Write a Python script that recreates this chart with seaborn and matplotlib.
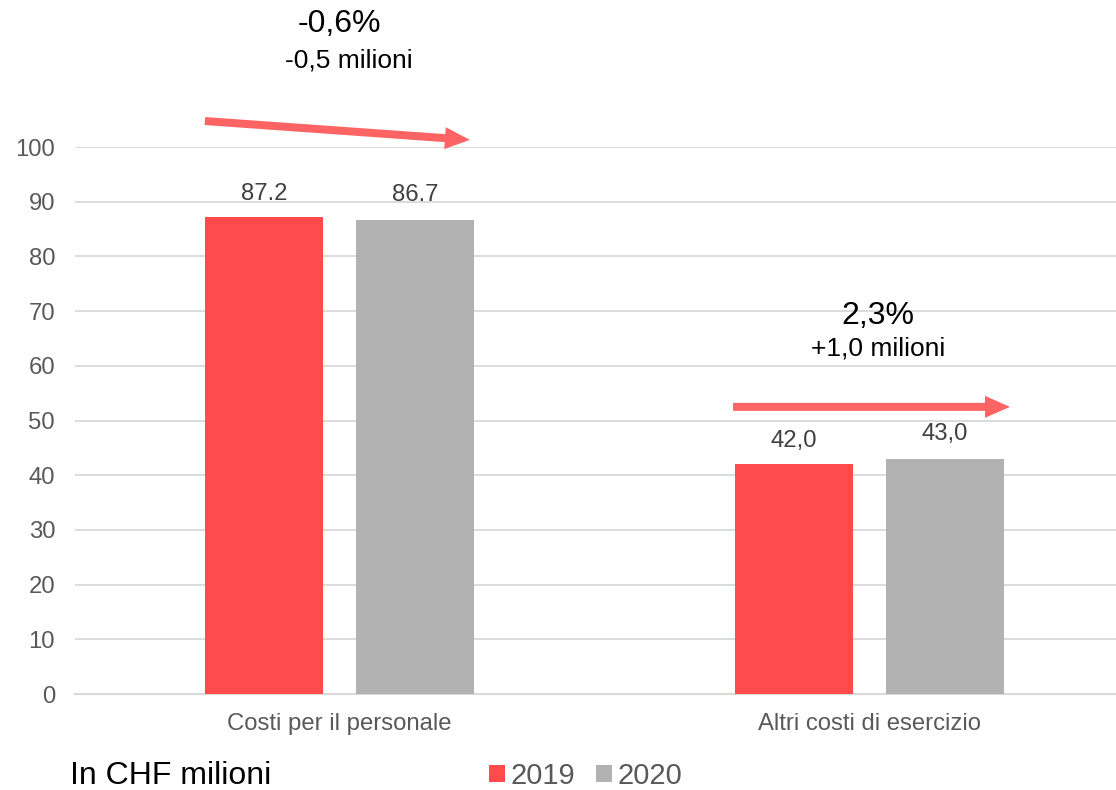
import pandas as pd
import matplotlib.pyplot as plt
import seaborn as sns
from matplotlib.patches import Patch

# data
categories = ["Costi per il personale", "Altri costi di esercizio"]
years = ["2019", "2020"]
values_2019 = [87.2, 42.0]
values_2020 = [86.7, 43.0]
labels_2019 = ["87.2", "42,0"]
labels_2020 = ["86.7", "43,0"]
change_pct = ["-0,6%", "2,3%"]
change_abs = ["-0,5 milioni", "+1,0 milioni"]
yticks = list(range(0, 101, 10))

red = "#FF4B4B"
grey = "#B2B2B2"
arrow_red = "#FF6464"
text_grey = "#595959"

df = pd.DataFrame({
    "categoria": categories * 2,
    "anno": [years[0]] * 2 + [years[1]] * 2,
    "valore": values_2019 + values_2020,
})

sns.set_style("white")
plt.rcParams["font.family"] = ["Liberation Sans", "DejaVu Sans"]

fig = plt.figure(figsize=(11.16, 7.9), dpi=100)
ax = fig.add_axes([0.0668, 0.1215, 0.9332, 0.6924])

sns.barplot(data=df, x="categoria", y="valore", hue="anno",
            palette=[red, grey], width=0.57, gap=0.22, linewidth=0,
            saturation=1, legend=False, ax=ax, zorder=3)

ax.set_ylim(0, 100)
ax.set_xlim(-0.5, 1.465)
ax.set_yticks(yticks)
ax.set_xlabel("")
ax.set_ylabel("")
ax.yaxis.grid(True, color="#D9D9D9", linewidth=1.3, zorder=0)
ax.xaxis.grid(False)
for side in ["left", "right", "top"]:
    ax.spines[side].set_visible(False)
ax.spines["bottom"].set_color("#D9D9D9")
ax.spines["bottom"].set_linewidth(1.5)
ax.tick_params(axis="y", length=0, pad=14, labelsize=17.2, labelcolor=text_grey)
ax.tick_params(axis="x", length=0, pad=14, labelsize=17.2, labelcolor=text_grey)

# value labels
ax.bar_label(ax.containers[0], labels=labels_2019, padding=9,
             fontsize=17.2, color="#404040")
ax.bar_label(ax.containers[1], labels=labels_2020, padding=10,
             fontsize=17.2, color="#404040")

# change annotations with arrows
arrows = [((-0.254, 104.75), (0.246, 101.3)), ((0.7425, 52.5), (1.265, 52.5))]
text_pos = [(0.0, 122.4, 0.017, 115.9), (1.016, 69.1, 1.016, 63.1)]
for i in range(2):
    start, end = arrows[i]
    ax.annotate("", xy=end, xytext=start, annotation_clip=False,
                arrowprops=dict(arrowstyle="simple,head_length=1.25,head_width=1.1,tail_width=0.4",
                                color=arrow_red, mutation_scale=14.4,
                                shrinkA=0, shrinkB=0, linewidth=0))
    x1, y1, x2, y2 = text_pos[i]
    ax.text(x1, y1, change_pct[i], ha="center", va="center",
            fontsize=23, color="black", clip_on=False)
    ax.text(x2, y2, change_abs[i], ha="center", va="center",
            fontsize=19, color="black", clip_on=False)

fig.text(0.0627, 0.0177, "In CHF milioni", ha="left", va="center",
         fontsize=23, color="black")

handles = [Patch(facecolor=red, edgecolor="none"), Patch(facecolor=grey, edgecolor="none")]
leg = fig.legend(handles, years, loc="center", bbox_to_anchor=(0.5247, 0.0177),
                 ncol=2, frameon=False, fontsize=21, handlelength=0.55,
                 handleheight=0.55, handletextpad=0.2, columnspacing=0.7,
                 borderpad=0, borderaxespad=0)
for t in leg.get_texts():
    t.set_color(text_grey)

fig.savefig("out.png", dpi=100)
